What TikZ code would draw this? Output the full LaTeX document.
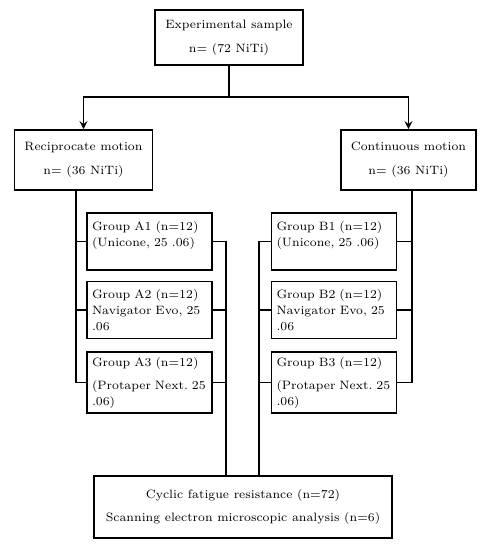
\documentclass[tikz,border=0pt]{standalone}
\usepackage{tikz}
\usetikzlibrary{arrows,shapes}
\usetikzlibrary{positioning}
\tikzstyle{box} = [draw=black, line width=1pt, align=center, inner sep=0.2cm, font=\fontsize{6.9}{9.1}\selectfont]
\tikzstyle{grp} = [box, align=left, inner xsep=0.1cm, inner ysep=0.08cm, text width=2.3cm, minimum height=1.14cm]
\tikzstyle{arrow} = [line width=1pt,->,>=stealth]
\tikzstyle{link} = [line width=1pt]

\begin{document}
\begin{tikzpicture}[x=0.02cm,y=-0.02cm]
	\useasboundingbox (0,0) rectangle (490,550);
	% sample and the two motions
	\node [box, minimum width=2.94cm, minimum height=0.98cm] (sample) at (229,37.5) {Experimental sample\\[4.5pt]n= (72 NiTi)};
	\node [box, minimum width=2.7cm, minimum height=1.2cm] (recip) at (83.5,160) {Reciprocate motion\\[4.5pt]n= (36 NiTi)};
	\node [box, minimum width=2.7cm, minimum height=1.2cm] (cont) at (408.5,160) {Continuous motion\\[4.5pt]n= (36 NiTi)};
	% groups
	\node [grp] (a1) at (149.5,241.5) {Group A1 (n=12)\\(Unicone, 25 .06)\\\mbox{}};
	\node [grp] (a2) at (149.5,310) {Group A2 (n=12)\\Navigator Evo, 25\\.06};
	\node [grp, minimum height=1.22cm] (a3) at (149.5,382.5) {Group A3 (n=12)\\[4pt](Protaper Next.~25\\.06)};
	\node [grp] (b1) at (334,241.5) {Group B1 (n=12)\\(Unicone, 25 .06)\\\mbox{}};
	\node [grp] (b2) at (334,310) {Group B2 (n=12)\\Navigator Evo, 25\\.06};
	\node [grp, minimum height=1.22cm] (b3) at (334,382.5) {Group B3 (n=12)\\[4pt](Protaper Next.~25\\.06)};
	% tests
	\node [box, minimum width=5.96cm, minimum height=1.24cm] (tests) at (243,507) {Cyclic fatigue resistance (n=72)\\[4pt]Scanning electron microscopic analysis (n=6)};

	\draw [arrow] (sample.south) -- ++(0,31) -| (recip.north);
	\draw [arrow] (sample.south) -- ++(0,31) -| (cont.north);

	\coordinate (lt) at ([xshift=-0.15cm]recip.south);
	\coordinate (rt) at ([xshift=0.07cm]cont.south);
	\coordinate (ra) at ([xshift=-0.34cm]tests.north);
	\coordinate (rb) at ([xshift=0.32cm]tests.north);

	\draw [link] (lt) |- (a3.west);
	\draw [link] (a1.west) -- (a1.west -| lt);
	\draw [link] (a2.west) -- (a2.west -| lt);
	\draw [link] (a1.east) -| (ra);
	\draw [link] (a2.east) -- (a2.east -| ra);
	\draw [link] (a3.east) -- (a3.east -| ra);

	\draw [link] (rt) |- (b3.east);
	\draw [link] (b1.east) -- (b1.east -| rt);
	\draw [link] (b2.east) -- (b2.east -| rt);
	\draw [link] (b1.west) -| (rb);
	\draw [link] (b2.west) -- (b2.west -| rb);
	\draw [link] (b3.west) -- (b3.west -| rb);
\end{tikzpicture}
\end{document}
